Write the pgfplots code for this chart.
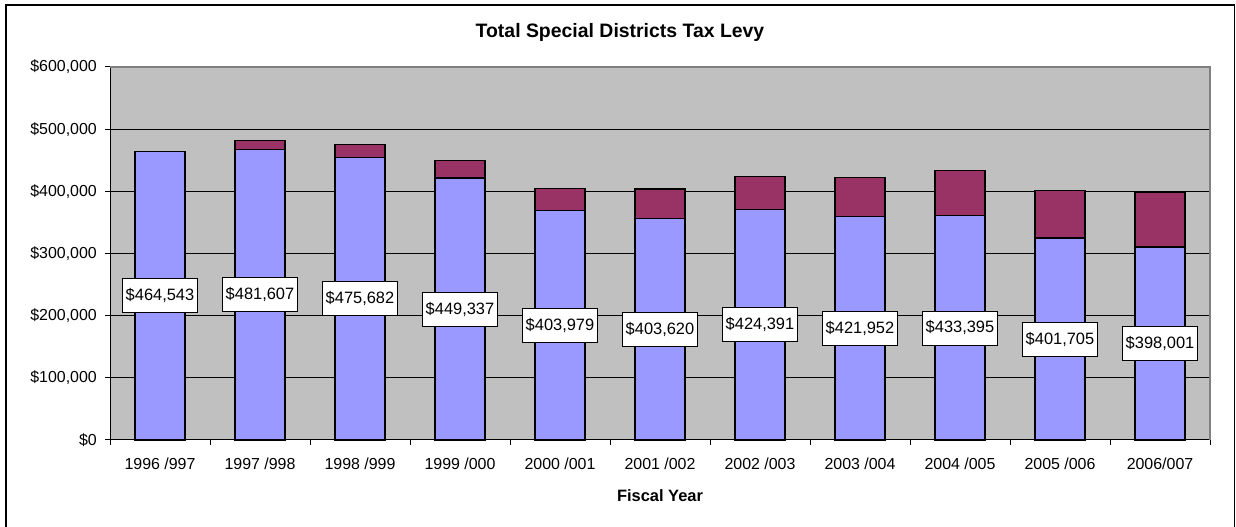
\documentclass[border=0pt]{standalone}
\usepackage{pgfplots}
\pgfplotsset{compat=1.18}
\usepackage{pgfplotstable}
\usepackage{fontspec}
\setmainfont{Liberation Sans}
\definecolor{barblue}{HTML}{9999FF}
\definecolor{barmaroon}{HTML}{993366}
\definecolor{plotbg}{HTML}{C0C0C0}
\definecolor{edgegray}{HTML}{808080}

\pgfplotstableread{
x blue maroon lab
0 464543 0 464,543
1 467000 14607 481,607
2 455000 20682 475,682
3 421500 27837 449,337
4 368600 35379 403,979
5 355800 47820 403,620
6 370300 54091 424,391
7 359000 62952 421,952
8 360600 72795 433,395
9 324800 76905 401,705
10 310300 87701 398,001
}\data

\begin{document}
\begin{tikzpicture}[x=1bp,y=1bp]
\path[use as bounding box] (0,0) rectangle (1236,527);
\draw[line width=1.2bp] (6,-2) -- (6,522) -- (1234.3,522) -- (1234.3,-2);
\node[font=\fontsize{19.5}{23}\selectfont\bfseries, anchor=center] at (620,494.3) {Total Special Districts Tax Levy};

\begin{axis}[
  at={(110bp,87bp)}, anchor=south west,
  scale only axis, width=1100bp, height=373bp,
  xmin=-0.5, xmax=10.5, ymin=0, ymax=600000,
  scaled y ticks=false,
  ybar stacked, bar width=50bp,
  axis x line*=bottom, axis y line*=left,
  axis line style={black, line width=1bp},
  axis background/.style={fill=plotbg},
  xtick={-0.5,0.5,...,10.5},
  x tick label as interval,
  xticklabels={1996 /997,1997 /998,1998 /999,1999 /000,2000 /001,2001 /002,2002 /003,2003 /004,2004 /005,2005 /006,2006/007,{}},
  ytick={0,100000,200000,300000,400000,500000,600000},
  yticklabels={{\$0},{\$100,000},{\$200,000},{\$300,000},{\$400,000},{\$500,000},{\$600,000}},
  tick align=outside, major tick length=5bp,
  tick style={black, line width=1bp},
  ymajorgrids, major grid style={black, line width=1bp},
  tick label style={font=\fontsize{16}{19}\selectfont},
  yticklabel style={anchor=east, inner sep=0pt, xshift=-8bp},
  xticklabel style={anchor=center, inner sep=0pt, yshift=-19bp},
  xlabel={Fiscal Year},
  xlabel style={font=\fontsize{16.5}{20}\selectfont\bfseries, at={(axis description cs:0.5,0)}, anchor=center, yshift=-55.7bp},
  /pgf/number format/assume math mode=true,
  clip=false,
]
\addplot[fill=barblue, draw=black, line width=1.2bp] table[x=x, y=blue] {\data};
\addplot[fill=barmaroon, draw=black, line width=1.2bp] table[x=x, y=maroon] {\data};
\draw[edgegray, line width=1.5bp] (rel axis cs:0,1) -- (rel axis cs:1,1) -- (rel axis cs:1,0);
\end{axis}

\begin{axis}[
  at={(110bp,87bp)}, anchor=south west,
  scale only axis, width=1100bp, height=373bp,
  xmin=-0.5, xmax=10.5, ymin=0, ymax=600000,
  hide axis, clip=false,
]
\addplot[draw=none, mark=none,
  nodes near coords={\$\pgfplotspointmeta},
  point meta=explicit symbolic,
  every node near coord/.append style={anchor=center, fill=white, draw=black, line width=0.8bp,
     font=\fontsize{16.5}{19}\selectfont, inner xsep=3.4bp, minimum height=34bp, text=black},
] table[x=x, y expr=\thisrow{blue}/2, meta=lab] {\data};
\end{axis}
\end{tikzpicture}
\end{document}
